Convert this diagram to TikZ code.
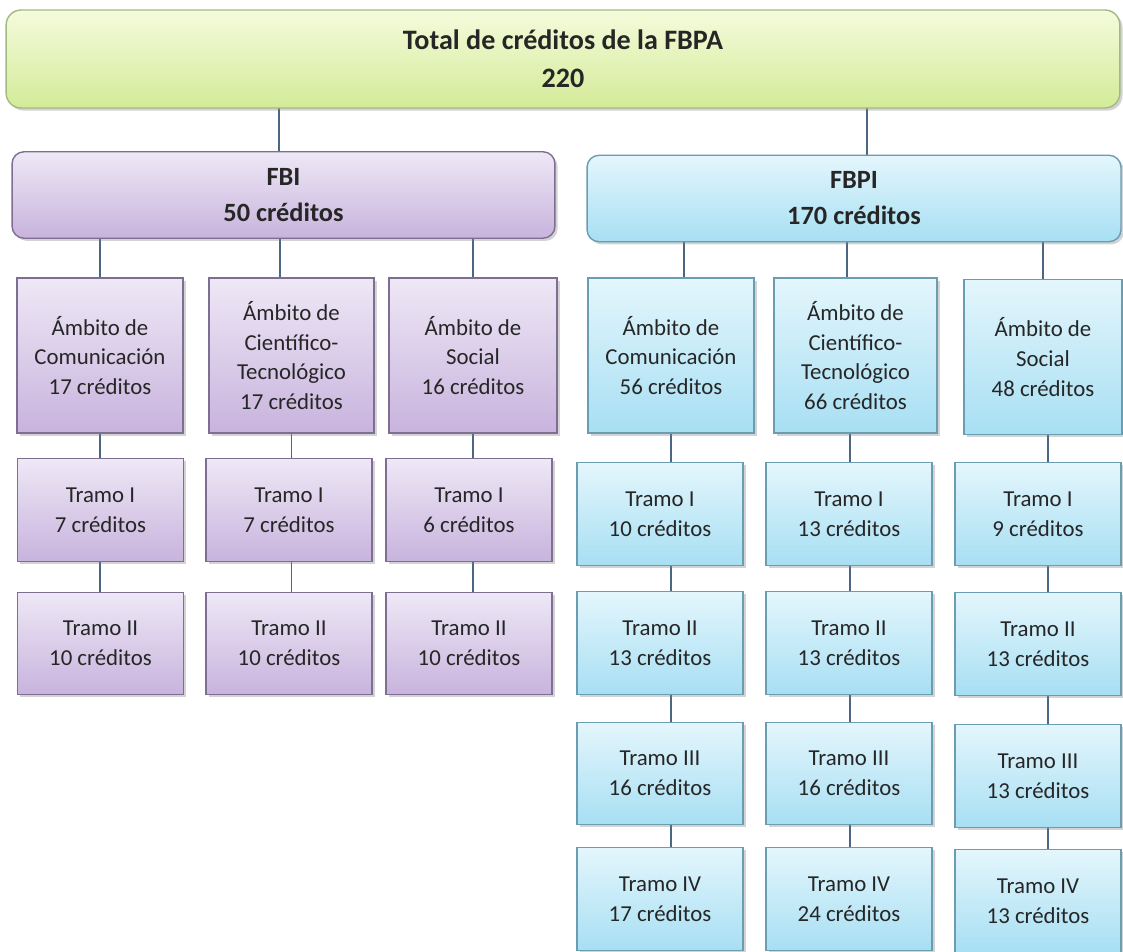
\documentclass[tikz,border=0pt]{standalone}
\usepackage{fontspec}
\setmainfont{Carlito}
\usetikzlibrary{positioning, shadows, backgrounds}

\definecolor{verdeTop}{HTML}{F5FBDC}
\definecolor{verdeBot}{HTML}{D3EB98}
\definecolor{verdeLin}{HTML}{A3B985}
\definecolor{lilaTop}{HTML}{EEE8F6}
\definecolor{lilaBot}{HTML}{C8B3DD}
\definecolor{lilaLin}{HTML}{7D6E92}
\definecolor{celesteTop}{HTML}{E4F6FC}
\definecolor{celesteBot}{HTML}{A7DFF3}
\definecolor{celesteLin}{HTML}{6A9DB1}
\definecolor{conector}{HTML}{4C6784}

\begin{document}
\begin{tikzpicture}[x=0.02cm, y=-0.02cm, % 1 unidad = 1 px de la imagen
  caja/.style={draw, line width=0.8pt, inner sep=0pt, align=center, text=black!85,
    drop shadow={shadow xshift=1.5pt, shadow yshift=-1.5pt, opacity=0.35},
    font=\fontsize{13}{17}\selectfont, minimum width=3.32cm},
  lila/.style={caja, draw=lilaLin, top color=lilaTop, bottom color=lilaBot},
  celeste/.style={caja, draw=celesteLin, top color=celesteTop, bottom color=celesteBot},
  ambito/.style={minimum height=3.1cm},
  tramo/.style={minimum height=2.05cm},
  cabeza/.style={rounded corners=0.24cm, font=\fontsize{15}{20.5}\selectfont\bfseries,
    minimum height=1.73cm},
  linea/.style={draw=conector, line width=0.7pt}]

\useasboundingbox (0,0) rectangle (1123,952);

% caja principal
\node[caja, draw=verdeLin, top color=verdeTop, bottom color=verdeBot, rounded corners=0.3cm,
  minimum width=22.28cm, minimum height=1.96cm,
  font=\fontsize{16}{21.5}\selectfont\bfseries] (total) at (563,59)
  {Total de créditos de la FBPA\\220};

% FBI
\node[lila, cabeza, minimum width=10.86cm] (fbi) at (283.5,195) {FBI\\50 créditos};
\node[lila, ambito] (fbiCom) at (100,355.5) {Ámbito de\\Comunicación\\17 créditos};
\node[lila, ambito, minimum width=3.30cm] (fbiCyt) at (291.5,355.5) {Ámbito de\\Científico-\\Tecnológico\\17 créditos};
\node[lila, ambito, minimum width=3.36cm] (fbiSoc) at (473,355.5) {Ámbito de\\Social\\16 créditos};
\node[lila, tramo] (fbiCom1) at (100.5,510) {Tramo I\\7 créditos};
\node[lila, tramo] (fbiCom2) at (100.5,643.5) {Tramo II\\10 créditos};
\node[lila, tramo] (fbiCyt1) at (289,510) {Tramo I\\7 créditos};
\node[lila, tramo] (fbiCyt2) at (289,643.5) {Tramo II\\10 créditos};
\node[lila, tramo] (fbiSoc1) at (469,510) {Tramo I\\6 créditos};
\node[lila, tramo] (fbiSoc2) at (469,643.5) {Tramo II\\10 créditos};

% FBPI
\node[celeste, cabeza, minimum width=10.68cm] (fbpi) at (854,198.5) {FBPI\\170 créditos};
\node[celeste, ambito] (fbpiCom) at (671,355.5) {Ámbito de\\Comunicación\\56 créditos};
\node[celeste, ambito, minimum width=3.26cm] (fbpiCyt) at (855.5,355.5) {Ámbito de\\Científico-\\Tecnológico\\66 créditos};
\node[celeste, ambito, minimum width=3.16cm] (fbpiSoc) at (1043,357) {Ámbito de\\Social\\48 créditos};
\node[celeste, tramo] (fbpiCom1) at (660,514) {Tramo I\\10 créditos};
\node[celeste, tramo] (fbpiCom2) at (660,643) {Tramo II\\13 créditos};
\node[celeste, tramo] (fbpiCom3) at (660,773.5) {Tramo III\\16 créditos};
\node[celeste, tramo] (fbpiCom4) at (660,899) {Tramo IV\\17 créditos};
\node[celeste, tramo] (fbpiCyt1) at (849,514) {Tramo I\\13 créditos};
\node[celeste, tramo] (fbpiCyt2) at (849,643) {Tramo II\\13 créditos};
\node[celeste, tramo] (fbpiCyt3) at (849,773.5) {Tramo III\\16 créditos};
\node[celeste, tramo] (fbpiCyt4) at (849,899) {Tramo IV\\24 créditos};
\node[celeste, tramo] (fbpiSoc1) at (1038,514) {Tramo I\\9 créditos};
\node[celeste, tramo] (fbpiSoc2) at (1038,644) {Tramo II\\13 créditos};
\node[celeste, tramo] (fbpiSoc3) at (1038,776) {Tramo III\\13 créditos};
\node[celeste, tramo] (fbpiSoc4) at (1038,901) {Tramo IV\\13 créditos};

% puntos de enganche de los conectores
\coordinate (pFbi) at ([xshift=-0.09cm]fbi.center);
\coordinate (pFbpi) at ([xshift=0.26cm]fbpi.center);
\coordinate (pCyt) at ([xshift=-0.23cm]fbiCyt.center);
\coordinate (pCom2) at ([xshift=0.26cm]fbpiCom.center);
\coordinate (pCyt2) at ([xshift=-0.17cm]fbpiCyt.center);
\coordinate (qCyt2) at ([xshift=-0.11cm]fbpiCyt.center);
\coordinate (qSoc2) at ([xshift=0.10cm]fbpiSoc.center);

% conectores (por detrás de las cajas)
\begin{scope}[on background layer]
\draw[linea] (pFbi |- total.center) -- (pFbi);
\draw[linea] (pFbpi |- total.center) -- (pFbpi);
\draw[linea] (fbiCom.center |- fbi.center) -- (fbiCom.center) -- (fbiCom.center |- fbiCom2.center);
\draw[linea] (pCyt |- fbi.center) -- (pCyt);
\draw[linea] (fbiCyt.center) -- (fbiCyt.center |- fbiCyt2.center);
\draw[linea] (fbiSoc.center |- fbi.center) -- (fbiSoc.center) -- (fbiSoc.center |- fbiSoc2.center);
\draw[linea] (pCom2 |- fbpi.center) -- (pCom2);
\draw[linea] (fbpiCom.center) -- (fbpiCom.center |- fbpiCom4.center);
\draw[linea] (pCyt2 |- fbpi.center) -- (pCyt2);
\draw[linea] (qCyt2) -- (qCyt2 |- fbpiCyt4.center);
\draw[linea] (fbpiSoc.center |- fbpi.center) -- (fbpiSoc.center);
\draw[linea] (qSoc2) -- (qSoc2 |- fbpiSoc4.center);
\end{scope}

\end{tikzpicture}
\end{document}
